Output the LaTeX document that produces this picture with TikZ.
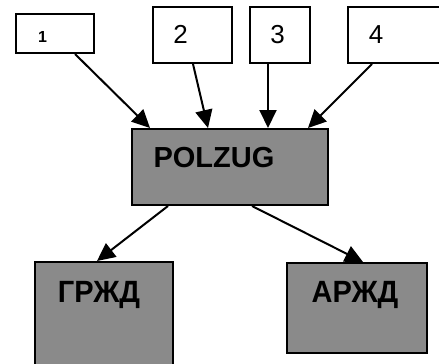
\documentclass[tikz,border=0pt]{standalone}
\usepackage{fontspec}
\setmainfont{Liberation Sans}
\usetikzlibrary{arrows.meta,calc}
\definecolor{boxgray}{HTML}{8A8A8A}
\begin{document}
\begin{tikzpicture}[x=1pt,y=-1pt,
  wbox/.style={draw=black,line width=2pt,fill=white,inner sep=0pt},
  gbox/.style={draw=black,line width=2pt,fill=boxgray,inner sep=0pt},
  lbl/.style={inner sep=0pt,anchor=base,font=\fontsize{29}{30}\selectfont\bfseries},
  num/.style={inner sep=0pt,anchor=base,font=\fontsize{26}{27}\selectfont},
  conn/.style={line width=2pt,-{Triangle[length=18pt,width=17pt]}}]
\useasboundingbox (0,0) rectangle (439,364);
% top boxes
\node[wbox,minimum width=78pt,minimum height=39pt] (b1) at (55,33.5) {};
\node[wbox,minimum width=79pt,minimum height=56pt] (b2) at (192.5,35) {};
\node[wbox,minimum width=60pt,minimum height=56pt] (b3) at (280,35) {};
\node[wbox,minimum width=97pt,minimum height=56pt] (b4) at (396.5,35) {};
\node[inner sep=0pt,anchor=base,font=\fontsize{16}{17}\selectfont\bfseries] (t1) at (42.5,42.5) {1};
\node[num] (t2) at (180.5,43) {2};
\node[num] (t3) at (277.5,43) {3};
\node[num] (t4) at (376,43) {4};
% middle
\node[gbox,minimum width=196pt,minimum height=76pt] (p) at (230,167) {};
\node[lbl] (tp) at (214,167.5) {POLZUG};
% bottom
\node[gbox,minimum width=138pt,minimum height=112pt] (g) at (104,318) {};
\node[gbox,minimum width=140pt,minimum height=90pt] (a) at (357,308) {};
\node[lbl] (tg) at (99,302) {\scalebox{1}[1.06]{ГРЖД}};
\node[lbl] (ta) at (355,302) {\scalebox{1}[1.06]{АРЖД}};
% connectors
\draw[conn] ([xshift=20pt]b1.south) -- ([xshift=-80pt]p.north);
\draw[conn] ([xshift=0.5pt]b2.south) -- ([xshift=-22pt]p.north);
\draw[conn] ([xshift=-12pt]b3.south) -- ([xshift=38pt]p.north);
\draw[conn] ([xshift=-24.5pt]b4.south) -- ([xshift=78pt]p.north);
\draw[conn] ([xshift=-62pt]p.south) -- ([xshift=-7pt]g.north);
\draw[conn] ([xshift=22pt]p.south) -- ([xshift=6pt]a.north);
\end{tikzpicture}
\end{document}
